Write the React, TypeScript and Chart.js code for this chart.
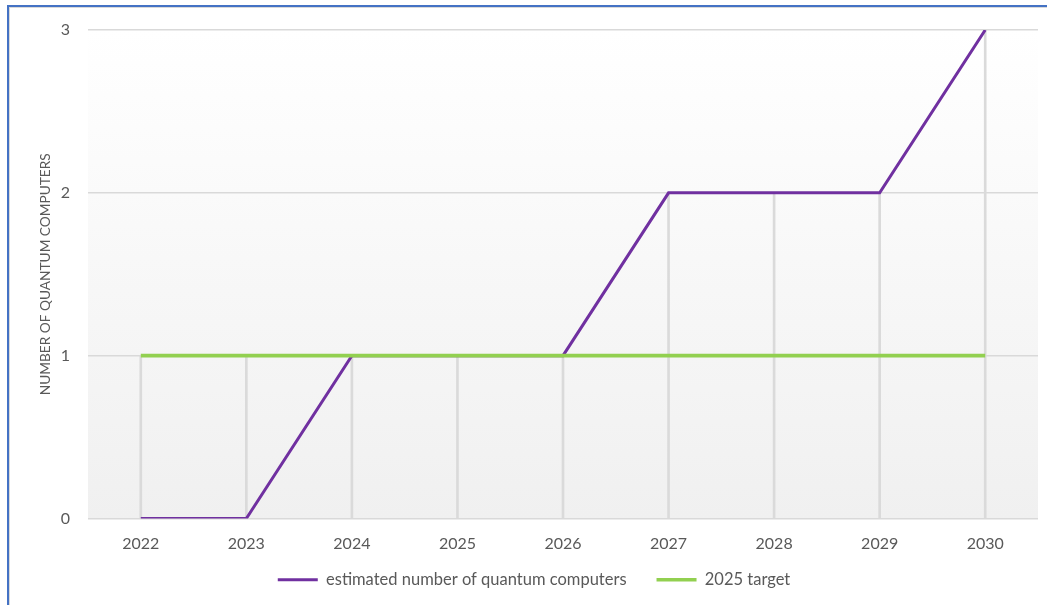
import React, { useEffect, useRef } from "react";
import { Chart, registerables } from "chart.js";

Chart.register(...registerables);

const years = ["2022", "2023", "2024", "2025", "2026", "2027", "2028", "2029", "2030"];
const estimated = [0, 0, 1, 1, 1, 2, 2, 2, 3];
const target = [1, 1, 1, 1, 1, 1, 1, 1, 1];
const dropLines = years.map((_, i) => Math.max(estimated[i], target[i]));
const yTicks = [0, 1, 2, 3];

const FONT = "Lato, 'Open Sans', sans-serif";
const TEXT = "#595959";

const gradientPlugin = {
  id: "plotGradient",
  beforeDraw(chart: any) {
    const { ctx, chartArea } = chart;
    if (!chartArea) return;
    const g = ctx.createLinearGradient(0, chartArea.top, 0, chartArea.bottom);
    g.addColorStop(0, "#ffffff");
    g.addColorStop(1, "#f0f0f0");
    ctx.save();
    ctx.fillStyle = g;
    ctx.fillRect(chartArea.left, chartArea.top, chartArea.right - chartArea.left, chartArea.bottom - chartArea.top);
    ctx.restore();
  },
};

export default function App() {
  const ref = useRef<HTMLCanvasElement>(null);
  useEffect(() => {
    if (!ref.current) return;
    const chart = new Chart(ref.current, {
      type: "line",
      data: {
        labels: years,
        datasets: [
          {
            label: "estimated number of quantum computers",
            data: estimated,
            borderColor: "#7030a0",
            backgroundColor: "#7030a0",
            borderWidth: 3,
            pointRadius: 0,
            fill: false,
            tension: 0,
            order: 1,
          },
          {
            label: "2025 target",
            data: target,
            borderColor: "#92d050",
            backgroundColor: "#92d050",
            borderWidth: 3.6,
            pointRadius: 0,
            fill: false,
            tension: 0,
            order: 0,
          },
          {
            type: "bar",
            label: "drop",
            data: dropLines,
            backgroundColor: "#dadada",
            borderWidth: 0,
            barThickness: 2,
            order: 5,
          } as any,
        ],
      },
      options: {
        responsive: false,
        animation: false,
        layout: { padding: { left: 30, right: 9, top: 30, bottom: 7 } },
        plugins: {
          tooltip: { enabled: false },
          legend: {
            position: "bottom",
            labels: {
              usePointStyle: true,
              pointStyle: "line",
              pointStyleWidth: 40,
              color: TEXT,
              font: { family: FONT, size: 16.5 },
              padding: 30,
              filter: (item: any) => item.datasetIndex !== 2,
              sort: (a: any, b: any) => a.datasetIndex - b.datasetIndex,
            },
          },
        },
        scales: {
          x: {
            grid: { display: false, drawTicks: false },
            border: { display: false },
            ticks: { color: TEXT, font: { family: FONT, size: 16 }, padding: -34.6, mirror: true },
            afterFit: (s: any) => {
              s.height = 23;
            },
          },
          y: {
            min: 0,
            max: 3,
            afterBuildTicks: (s: any) => {
              s.ticks = yTicks.map((v) => ({ value: v }));
            },
            grid: { color: "#d9d9d9", lineWidth: 1.5, drawTicks: false },
            border: { display: false },
            ticks: { color: TEXT, font: { family: FONT, size: 16 }, padding: 18 },
            title: {
              display: true,
              text: "NUMBER OF QUANTUM COMPUTERS",
              color: TEXT,
              font: { family: FONT, size: 13.7 },
              padding: { top: 7, bottom: 0 },
            },
            afterFit: (s: any) => {
              s.width = 58;
            },
          },
        },
      },
      plugins: [gradientPlugin],
    });
    return () => chart.destroy();
  }, []);

  return (
    <div style={{ position: "fixed", inset: 0, overflow: "hidden", background: "#fff" }}>
      <div
        style={{
          position: "absolute",
          left: 7,
          top: 5,
          width: 2000,
          height: 2000,
          borderLeft: "2px solid #4472c4",
          borderTop: "2px solid #4472c4",
        }}
      >
        <div style={{ width: "100%", height: "100%", borderLeft: "1px solid #d9d9d9", borderTop: "1px solid #d9d9d9" }} />
      </div>
      <canvas ref={ref} width={1047} height={605} style={{ position: "absolute", left: 0, top: 0 }} />
    </div>
  );
}
